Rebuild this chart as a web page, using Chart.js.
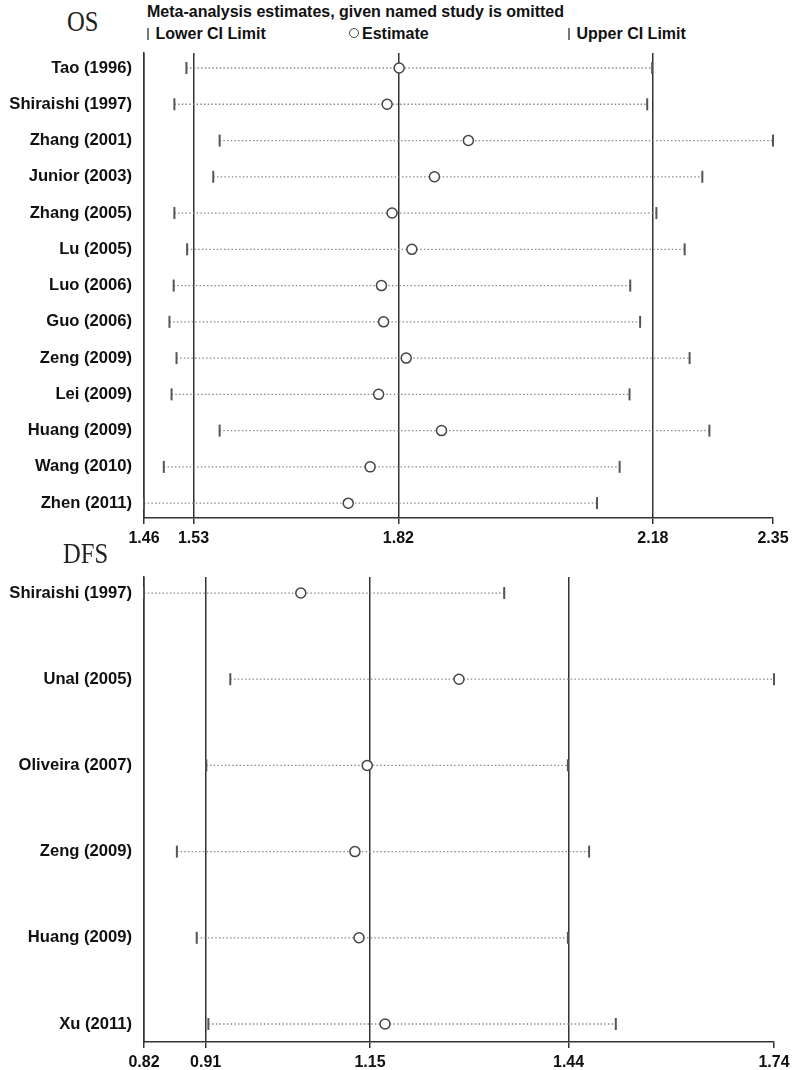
<!DOCTYPE html>
<html>
<head>
<meta charset="utf-8">
<script src="https://cdn.jsdelivr.net/npm/chart.js@4.4.1/dist/chart.umd.min.js"></script>
<style>
  body { margin: 0; background: #fff; }
  #wrap { position: relative; width: 800px; height: 1070px; font-family: "Liberation Sans", Arial, sans-serif; }
  canvas { position: absolute; left: 0; }
  .ttl { position: absolute; font-family: "Liberation Serif", "DejaVu Serif", serif; font-size: 29px; color: #222; line-height: 1; transform: scaleX(0.85); transform-origin: left top; }
  .txt { position: absolute; font-weight: bold; color: #111; line-height: 1; white-space: nowrap; }
  .bar { display: inline-block; width: 1.5px; height: 12px; background: #777; vertical-align: -1px; margin-right: 7px; }
  .circ { display: inline-block; width: 8px; height: 8px; border: 1.5px solid #444; border-radius: 50%; vertical-align: 1px; margin-right: 3px; }
</style>
</head>
<body>
<div id="wrap">
  <div class="ttl" style="left:67px;top:7px">OS</div>
  <div class="txt" style="left:147px;top:4px;font-size:16px">Meta-analysis estimates, given named study is omitted</div>
  <div class="txt" style="left:147px;top:26px;font-size:16px"><span class="bar"></span>Lower CI Limit</div>
  <div class="txt" style="left:349px;top:26px;font-size:16px"><span class="circ"></span>Estimate</div>
  <div class="txt" style="left:568px;top:26px;font-size:16px"><span class="bar"></span>Upper CI Limit</div>
  <canvas id="osChart" width="800" height="555" style="top:0"></canvas>
  <div class="ttl" style="left:63px;top:539px">DFS</div>
  <canvas id="dfsChart" width="800" height="515" style="top:555px"></canvas>
</div>
<script>
// OS: study omitted, lower CI, estimate, upper CI
var osStudies = ['Tao (1996)', 'Shiraishi (1997)', 'Zhang (2001)', 'Junior (2003)', 'Zhang (2005)', 'Lu (2005)',
  'Luo (2006)', 'Guo (2006)', 'Zeng (2009)', 'Lei (2009)', 'Huang (2009)', 'Wang (2010)', 'Zhen (2011)'];
var osLower = [1.520, 1.503, 1.567, 1.558, 1.503, 1.521, 1.502, 1.496, 1.506, 1.499, 1.567, 1.488, 1.460];
var osEst   = [1.821, 1.804, 1.919, 1.871, 1.811, 1.839, 1.796, 1.799, 1.831, 1.792, 1.881, 1.780, 1.749];
var osUpper = [2.179, 2.172, 2.350, 2.250, 2.185, 2.225, 2.148, 2.162, 2.232, 2.147, 2.260, 2.133, 2.101];
var osTicks = [1.46, 1.53, 1.82, 2.18, 2.35];

// DFS
var dfsStudies = ['Shiraishi (1997)', 'Unal (2005)', 'Oliveira (2007)', 'Zeng (2009)', 'Huang (2009)', 'Xu (2011)'];
var dfsLower = [0.820, 0.946, 0.911, 0.868, 0.897, 0.914];
var dfsEst   = [1.049, 1.280, 1.146, 1.128, 1.134, 1.172];
var dfsUpper = [1.346, 1.740, 1.439, 1.470, 1.439, 1.509];
var dfsTicks = [0.82, 0.91, 1.15, 1.44, 1.74];

var lineCol = '#333';

function makeChart(id, studies, lower, est, upper, ticks, yMin, yMax, pad, xHeight) {
  var datasets = [{
    label: 'Estimate',
    data: est.map(function (v, i) { return { x: v, y: i + 1 }; }),
    pointStyle: 'circle',
    pointRadius: 5,
    pointBackgroundColor: '#fff',
    pointBorderColor: '#444',
    pointBorderWidth: 1.5,
    clip: false,
    order: 0
  }];
  for (var i = 0; i < studies.length; i++) {
    datasets.push({
      label: studies[i],
      data: [{ x: lower[i], y: i + 1 }, { x: upper[i], y: i + 1 }],
      showLine: true,
      borderColor: '#8a8a8a',
      borderWidth: 1.3,
      borderDash: [1.5, 2.2],
      pointStyle: 'line',
      pointRotation: 90,
      pointRadius: 6,
      pointBorderColor: '#555',
      pointBorderWidth: 2,
      clip: false,
      order: 1
    });
  }
  return new Chart(document.getElementById(id), {
    type: 'scatter',
    data: { datasets: datasets },
    options: {
      responsive: false,
      animation: false,
      layout: { padding: pad },
      plugins: { legend: { display: false }, tooltip: { enabled: false } },
      scales: {
        x: {
          type: 'linear',
          min: ticks[0],
          max: ticks[ticks.length - 1],
          afterBuildTicks: function (scale) {
            scale.ticks = ticks.map(function (v) { return { value: v }; });
          },
          afterFit: function (scale) { scale.height = xHeight; },
          grid: {
            color: function (ctx) { return ctx.index === ticks.length - 1 ? 'rgba(0,0,0,0)' : lineCol; },
            lineWidth: 1.5,
            tickColor: lineCol,
            tickLength: 6
          },
          border: { display: true, color: lineCol, width: 1.5 },
          ticks: {
            autoSkip: false,
            maxRotation: 0,
            padding: 5,
            color: '#111',
            font: { family: 'Liberation Sans', size: 16, weight: 'bold' },
            callback: function (v) { return v.toFixed(2); }
          }
        },
        y: {
          type: 'linear',
          reverse: true,
          min: yMin,
          max: yMax,
          afterBuildTicks: function (scale) {
            scale.ticks = studies.map(function (s, i) { return { value: i + 1 }; });
          },
          afterFit: function (scale) { scale.width = 144; },
          grid: { display: false, drawTicks: false },
          border: { display: true, color: lineCol, width: 1.5 },
          ticks: {
            autoSkip: false,
            padding: 12,
            color: '#111',
            font: { family: 'Liberation Sans', size: 16.6, weight: 'bold' },
            callback: function (v) { return studies[v - 1]; }
          }
        }
      }
    }
  });
}

makeChart('osChart', osStudies, osLower, osEst, osUpper, osTicks, 0.586, 13.41,
  { top: 53, right: 27, left: 0, bottom: 0 }, 37);
makeChart('dfsChart', dfsStudies, dfsLower, dfsEst, dfsUpper, dfsTicks, 0.814, 6.209,
  { top: 22, right: 26, left: 0, bottom: 0 }, 28);
</script>
</body>
</html>
